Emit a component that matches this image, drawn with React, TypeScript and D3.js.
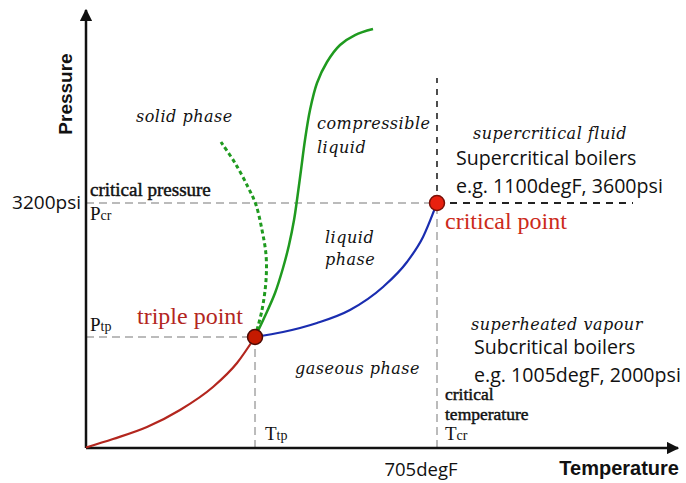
import { useEffect, useRef } from "react";
import * as d3 from "d3";

// schematic units: temperature 0..100 across, pressure 0..100 up
const solidGas = [[0, 0.11], [4.56, 2.05], [10.3, 4.79], [15.88, 8.68], [21.45, 13.93], [25.51, 19.41], [28.55, 25.34]];
const liquidGas = [[28.55, 25.34], [33.28, 26.48], [39.02, 28.54], [44.59, 31.51], [50.17, 36.76], [54.22, 42.47], [56.93, 48.17], [59.29, 55.94]];
const solidLiquid = [
  [28.55, 25.34], [30.24, 30.14], [31.93, 35.39], [33.28, 41.1], [34.29, 46.35], [35.14, 52.05],
  [35.64, 56.62], [36.32, 63.47], [36.99, 70.32], [37.84, 77.17], [39.02, 83.33], [40.71, 88.13],
  [42.91, 92.01], [45.44, 94.29], [48.48, 95.66],
];
const waterAnomaly = [[28.55, 25.34], [29.73, 31.51], [30.41, 38.36], [30.41, 44.06], [29.73, 49.77], [28.72, 55.48], [27.36, 59.59], [25.17, 65.07], [22.8, 69.86]];
const triplePoint = [28.55, 25.34];
const criticalPoint = [59.29, 55.94];
const supercriticalEnd = 92.4;
const supercriticalTop = 84.5;
const tempTick = "705degF";
const pressTick = "3200psi";

const serif = "'Liberation Serif', 'DejaVu Serif', serif";
const italicSerif = "'DejaVu Serif', serif";
const sans = "'Open Sans', 'Liberation Sans', sans-serif";
const boldSans = "'Liberation Sans', Arial, sans-serif";

function App() {
  const ref = useRef<SVGSVGElement>(null);

  useEffect(() => {
    const svg = d3.select(ref.current);
    svg.selectAll("*").remove();

    const x = d3.scaleLinear().domain([0, 100]).range([86, 678]);
    const y = d3.scaleLinear().domain([0, 100]).range([448, 10]);

    const defs = svg.append("defs");
    defs.append("marker")
      .attr("id", "arrow")
      .attr("viewBox", "0 0 10 10")
      .attr("refX", 9).attr("refY", 5)
      .attr("markerWidth", 5).attr("markerHeight", 5)
      .attr("markerUnits", "strokeWidth")
      .attr("orient", "auto")
      .append("path").attr("d", "M0,0 L10,5 L0,10 z").attr("fill", "#111");

    // helper lines
    const gray = (x1: number, y1: number, x2: number, y2: number) =>
      svg.append("line")
        .attr("x1", x(x1)).attr("y1", y(y1)).attr("x2", x(x2)).attr("y2", y(y2))
        .attr("stroke", "#bbb").attr("stroke-width", 2).attr("stroke-dasharray", "8,5");
    gray(0, criticalPoint[1], criticalPoint[0], criticalPoint[1]);
    gray(criticalPoint[0], 0, criticalPoint[0], criticalPoint[1]);
    gray(0, triplePoint[1], triplePoint[0], triplePoint[1]);
    gray(triplePoint[0], 0, triplePoint[0], triplePoint[1]);

    svg.append("line")
      .attr("x1", x(criticalPoint[0])).attr("y1", y(criticalPoint[1]))
      .attr("x2", x(supercriticalEnd)).attr("y2", y(criticalPoint[1]))
      .attr("stroke", "#222").attr("stroke-width", 2).attr("stroke-dasharray", "7,6");
    svg.append("line")
      .attr("x1", x(criticalPoint[0])).attr("y1", y(criticalPoint[1]))
      .attr("x2", x(criticalPoint[0])).attr("y2", y(supercriticalTop))
      .attr("stroke", "#222").attr("stroke-width", 1.6).attr("stroke-dasharray", "6,6");

    // axes
    svg.append("line")
      .attr("x1", x(0)).attr("y1", y(0)).attr("x2", x(0)).attr("y2", y(100))
      .attr("stroke", "#111").attr("stroke-width", 2.5).attr("marker-end", "url(#arrow)");
    svg.append("line")
      .attr("x1", x(0)).attr("y1", y(0)).attr("x2", x(100)).attr("y2", y(0))
      .attr("stroke", "#111").attr("stroke-width", 2.5).attr("marker-end", "url(#arrow)");

    const smooth = d3.line<number[]>()
      .x((d) => x(d[0]))
      .y((d) => y(d[1]))
      .curve(d3.curveMonotoneX);
    const line = d3.line<number[]>()
      .x((d) => x(d[0]))
      .y((d) => y(d[1]))
      .curve(d3.curveCatmullRom);

    svg.append("path").datum(solidGas).attr("d", smooth)
      .attr("fill", "none").attr("stroke", "#b3261e").attr("stroke-width", 2.2);
    svg.append("path").datum(liquidGas).attr("d", smooth)
      .attr("fill", "none").attr("stroke", "#1a2db0").attr("stroke-width", 2.2);
    svg.append("path").datum(solidLiquid).attr("d", line)
      .attr("fill", "none").attr("stroke", "#1f9a1f").attr("stroke-width", 2.5);
    svg.append("path").datum(waterAnomaly).attr("d", line)
      .attr("fill", "none").attr("stroke", "#1f9a1f").attr("stroke-width", 3)
      .attr("stroke-dasharray", "4,3");

    svg.append("circle")
      .attr("cx", x(triplePoint[0])).attr("cy", y(triplePoint[1])).attr("r", 7.5)
      .attr("fill", "#c41a00").attr("stroke", "#4a0a05").attr("stroke-width", 1.5);
    svg.append("circle")
      .attr("cx", x(criticalPoint[0])).attr("cy", y(criticalPoint[1])).attr("r", 7.5)
      .attr("fill", "#e8200f").attr("stroke", "#7a1008").attr("stroke-width", 1.5);

    const text = (tx: number, ty: number, s: string, opts: any = {}) => {
      const t = svg.append("text")
        .attr("x", tx).attr("y", ty)
        .attr("font-family", opts.family || serif)
        .attr("font-size", opts.size || 15)
        .attr("fill", opts.fill || "#111")
        .attr("font-style", opts.italic ? "italic" : "normal")
        .attr("font-weight", opts.bold ? "bold" : "normal")
        .attr("text-anchor", opts.anchor || "start")
        .attr("letter-spacing", opts.ls || 0)
        .text(s);
      if (opts.heavy) t.attr("stroke", opts.fill || "#111").attr("stroke-width", 0.45);
      return t;
    };
    const sub = (tx: number, ty: number, main: string, small: string) => {
      const t = svg.append("text").attr("x", tx).attr("y", ty)
        .attr("font-family", serif).attr("font-size", 19).attr("fill", "#111");
      t.append("tspan").text(main);
      t.append("tspan").attr("font-size", 14).text(small);
    };

    // axis titles and ticks
    svg.append("text")
      .attr("transform", `translate(72,${94}) rotate(-90)`)
      .attr("text-anchor", "middle")
      .attr("font-family", boldSans)
      .attr("font-weight", "bold").attr("font-size", 19).attr("fill", "#111")
      .text("Pressure");
    text(679, 475, "Temperature", { family: boldSans, bold: true, size: 20, anchor: "end" });
    text(x(criticalPoint[0]) - 16, 476, tempTick, { family: sans, size: 18.5, anchor: "middle" });
    text(x(0) - 5, y(criticalPoint[1]) + 6, pressTick, { family: sans, size: 19, anchor: "end" });

    text(90, 196, "critical pressure", { size: 19, heavy: true });
    sub(90, 220, "P", "cr");
    sub(90, 331, "P", "tp");
    sub(265, 440, "T", "tp");
    sub(445, 440, "T", "cr");
    text(445, 400, "critical", { size: 17.5, heavy: true });
    text(445, 420, "temperature", { size: 17.5, heavy: true });

    text(137, 324, "triple point", { size: 24, fill: "#b3261e" });
    text(445, 229, "critical point", { size: 24, fill: "#cc2a1a" });

    const it = { family: italicSerif, italic: true, size: 16, ls: 0.5 };
    text(136, 122, "solid phase", it);
    text(317, 129, "compressible", it);
    text(317, 153, "liquid", it);
    text(325, 243, "liquid", it);
    text(325, 265, "phase", it);
    text(295, 374, "gaseous phase", it);

    text(473, 139, "supercritical fluid", it);
    text(456, 165, "Supercritical boilers", { family: sans, size: 19.6 });
    text(456, 193, "e.g. 1100degF, 3600psi", { family: sans, size: 19.6 });
    text(471, 330, "superheated vapour", it);
    text(474, 354, "Subcritical boilers", { family: sans, size: 19.6 });
    text(474, 382, "e.g. 1005degF, 2000psi", { family: sans, size: 19.6 });
  }, []);

  return (
    <svg
      ref={ref}
      width={686}
      height={483}
      style={{ position: "absolute", left: 0, top: 0, background: "#fff" }}
    />
  );
}

export default App;
